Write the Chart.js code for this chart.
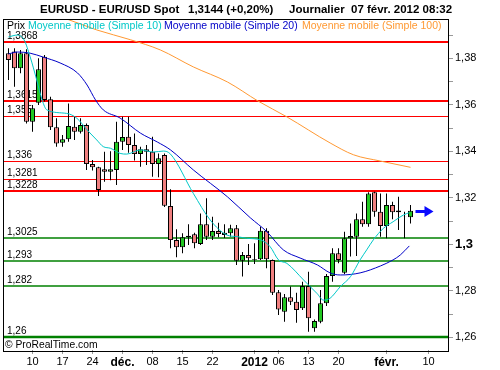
<!DOCTYPE html>
<html><head><meta charset="utf-8">
<script src="https://cdn.jsdelivr.net/npm/chart.js@4.4.1/dist/chart.umd.min.js"></script>
<style>html,body{margin:0;padding:0;background:#fff;}#wrap{width:500px;height:370px;}</style>
</head><body><div id="wrap"><canvas id="c" width="500" height="370"></canvas></div>
<script>
// ---- data ----
const opens = [1.3822,1.3829,1.3757,1.3822,1.3527,1.3609,1.3807,1.3624,1.3503,1.3437,1.3452,1.3506,1.3484,1.3513,1.3345,1.3331,1.3323,1.3312,1.3320,1.3441,1.3463,1.3427,1.3388,1.3409,1.3398,1.3345,1.3384,1.3165,1.3018,1.2987,1.3030,1.3043,1.3001,1.3086,1.3033,1.3057,1.3040,1.3047,1.3069,1.2929,1.2954,1.2932,1.2936,1.3058,1.2932,1.2794,1.2710,1.2772,1.2753,1.2725,1.2821,1.2639,1.2667,1.2746,1.2864,1.2961,1.2878,1.3026,1.3033,1.3108,1.3086,1.3224,1.3140,1.3079,1.3169,1.3145,1.3119,1.3116];
const highs = [1.3843,1.3843,1.3836,1.3839,1.3599,1.3800,1.3814,1.3635,1.3542,1.3470,1.3606,1.3549,1.3542,1.3520,1.3363,1.3334,1.3398,1.3400,1.3527,1.3549,1.3549,1.3477,1.3420,1.3427,1.3463,1.3391,1.3391,1.3237,1.3065,1.3047,1.3086,1.3050,1.3133,1.3198,1.3119,1.3093,1.3086,1.3084,1.3083,1.2967,1.3001,1.3004,1.3076,1.3069,1.2935,1.2803,1.2786,1.2818,1.2792,1.2839,1.2882,1.2677,1.2803,1.2872,1.2983,1.2983,1.3054,1.3090,1.3133,1.3183,1.3224,1.3226,1.3219,1.3219,1.3183,1.3205,1.3140,1.3169];
const lows = [1.3707,1.3678,1.3736,1.3520,1.3484,1.3599,1.3614,1.3492,1.3420,1.3420,1.3441,1.3449,1.3477,1.3320,1.3317,1.3208,1.3269,1.3275,1.3255,1.3406,1.3394,1.3360,1.3334,1.3341,1.3291,1.3288,1.3160,1.2983,1.2944,1.2961,1.2997,1.2983,1.2997,1.3018,1.3018,1.3030,1.3027,1.3033,1.2911,1.2861,1.2911,1.2915,1.2932,1.2897,1.2782,1.2696,1.2667,1.2739,1.2663,1.2717,1.2624,1.2624,1.2660,1.2735,1.2839,1.2918,1.2872,1.2947,1.2950,1.3076,1.3076,1.3119,1.3033,1.3026,1.3108,1.3061,1.3026,1.3090];
const closes = [1.3793,1.3757,1.3822,1.3527,1.3585,1.3753,1.3621,1.3503,1.3434,1.3452,1.3509,1.3484,1.3513,1.3345,1.3331,1.3234,1.3312,1.3323,1.3441,1.3462,1.3427,1.3388,1.3409,1.3398,1.3345,1.3370,1.3166,1.3018,1.2987,1.3030,1.3037,1.3004,1.3086,1.3033,1.3057,1.3044,1.3050,1.3069,1.2929,1.2954,1.2940,1.2936,1.3058,1.2936,1.2792,1.2720,1.2772,1.2753,1.2717,1.2821,1.2682,1.2670,1.2746,1.2864,1.2961,1.2932,1.3026,1.3036,1.3108,1.3086,1.3219,1.3140,1.3079,1.3169,1.3138,1.3138,1.3117,1.3144];

// moving averages, read at candle positions along the line
const ma10At = [0,1.5,2.6,3.6,4.7,5.6,6.4,9.7,11.4,13.1,14.7,15.8,17,18.6,19.7,22,24.2,25.8,27,30.8,33.6,36.4,38.1,39.7,42,43.6,45,46.4,49.2,51.4,52.5,53.6,55.3,57,58.6,59.7,60.8,62.5,64.1,65.8,66.8];
const ma10Values = [1.3892,1.3900,1.3879,1.3807,1.3707,1.3621,1.3578,1.3563,1.3542,1.3492,1.3449,1.3420,1.3413,1.3391,1.3388,1.3406,1.3397,1.3401,1.3388,1.3219,1.3105,1.3040,1.3033,1.3026,1.3019,1.2990,1.2933,1.2918,1.2846,1.2789,1.2760,1.2768,1.2818,1.2861,1.2933,1.2976,1.3019,1.3069,1.3097,1.3126,1.3136];
const ma20At = [0,1.5,3.6,5.8,8.6,11.5,13.1,14.5,15.8,18.6,22,24.8,27,30.8,36.5,40.3,43.1,45.8,48.6,51.5,53.6,55.3,58.6,62,64.1,65.3,66.8];
const ma20Values = [1.3819,1.3827,1.3822,1.3805,1.3780,1.3737,1.3685,1.3621,1.3578,1.3543,1.3478,1.3440,1.3406,1.3320,1.3204,1.3114,1.3053,1.2976,1.2941,1.2911,1.2877,1.2868,1.2877,1.2907,1.2933,1.2954,1.2993];
const ma100At = [7.9,9.8,14.7,20.3,25.3,30.8,36.5,41.6,46.4,53.6,57.5,62,67];
const ma100Values = [1.3982,1.3968,1.3922,1.3880,1.3836,1.3763,1.3698,1.3616,1.3548,1.3436,1.3385,1.3358,1.3331];

// horizontal levels
const levelValues = [1.3868,1.3615,1.355,1.336,1.3281,1.3228,1.3025,1.293,1.282,1.26];
const levelLabels = ['1,3868','1,3615','1,355','1,336','1,3281','1,3228','1,3025','1,293','1,282','1,26'];

// axes
const xTickPos = [4,9,14,19,24,29,34,41,45,50,55,63,70];
const xTickLabels = ['10','17','24','déc.','08','15','22','2012','06','13','20','févr.','10'];
const xBoldLabels = ['déc.','2012','févr.'];
const yTickValues = [1.26,1.27,1.28,1.29,1.30,1.31,1.32,1.33,1.34,1.35,1.36,1.37,1.38,1.39];
const yTickLabels = ['1,26','','1,28','','1,3','','1,32','','1,34','','1,36','','1,38',''];

const titleParts = ['EURUSD - EUR/USD Spot','1,3144 (+0,20%)','Journalier  07 févr. 2012 08:32'];
const legendParts = ['Prix','Moyenne mobile (Simple 10)','Moyenne mobile (Simple 20)','Moyenne mobile (Simple 100)'];
const copyright = '© ProRealTime.com';

// ---- styles ----
const FONT = '"Liberation Sans", Arial, sans-serif';
const UP = '#22c822', DOWN = '#f08080';
const C10 = '#00c8c8', C20 = '#0000c8', C100 = '#ff9933';
const levelStyle = [
  ['#ff0000',2],['#ff0000',2],['#ff0000',1],['#ff0000',1],['#ff0000',1],['#ff0000',2],
  ['#008000',1.4],['#008000',1.4],['#008000',1.4],['#008000',2.4]
];

Chart.defaults.font.family = FONT;

const bodies = opens.map((o,i)=>({x:i, y:[o, closes[i]]}));
const wicks = lows.map((l,i)=>({x:i, y:[l, highs[i]]}));
const bodyColors = opens.map((o,i)=> closes[i] >= o ? UP : DOWN);
const toPts = (xs, vs) => xs.map((x,i)=>({x:x, y:vs[i]}));

const overlay = {
  id:'overlay',
  beforeDraw(chart){
    const c = chart.ctx; c.save(); c.fillStyle='#fff'; c.fillRect(0,0,chart.width,chart.height); c.restore();
  },
  beforeDatasetsDraw(chart){
    const c = chart.ctx, a = chart.chartArea, y = chart.scales.y;
    c.save();
    levelValues.forEach((v,i)=>{
      const py = y.getPixelForValue(v);
      const [col,w] = levelStyle[i];
      c.strokeStyle = col; c.lineWidth = w;
      const off = (w % 2 === 1) ? 0.5 : 0;
      const yy = Math.round(py) + off;
      c.beginPath(); c.moveTo(a.left, yy); c.lineTo(a.right, yy); c.stroke();
      c.fillStyle = '#000'; c.font = '10px ' + FONT; c.textBaseline='alphabetic'; c.textAlign='left';
      c.fillText(levelLabels[i], a.left + 4, Math.round(py) - 3);
    });
    c.restore();
  },
  afterDatasetsDraw(chart){
    const c = chart.ctx, a = chart.chartArea, x = chart.scales.x, y = chart.scales.y;
    c.save();
    // arrow at last close
    const last = closes.length - 1;
    const ax = x.getPixelForValue(last), ay = Math.round(y.getPixelForValue(closes[last]));
    c.fillStyle = '#0a0aff';
    c.fillRect(ax + 5, ay - 1, 11, 3);
    c.beginPath(); c.moveTo(ax + 14, ay - 5); c.lineTo(ax + 23, ay + 0.5); c.lineTo(ax + 14, ay + 6); c.closePath(); c.fill();
    // frame
    c.strokeStyle = '#000'; c.lineWidth = 1;
    c.strokeRect(a.left + 0.5, a.top + 0.5, a.right - a.left - 1, a.bottom - a.top + 1);
    // title
    c.fillStyle = '#000'; c.font = 'bold 11.5px ' + FONT; c.textAlign='left'; c.textBaseline='alphabetic';
    c.fillText(titleParts[0], 40, 13);
    c.fillText(titleParts[1], 188, 13);
    c.fillText(titleParts[2], 289, 13);
    // legend
    c.font = '10.5px ' + FONT;
    const lx = [a.left + 4, 28, 164, 302];
    const lc = ['#000', C10, C20, C100];
    legendParts.forEach((t,i)=>{ c.fillStyle = lc[i]; c.fillText(t, lx[i], 29); });
    // copyright
    c.fillStyle = '#000'; c.font = '10.3px ' + FONT;
    c.fillText(copyright, a.left + 2, a.bottom - 2);
    c.restore();
  }
};

new Chart(document.getElementById('c'), {
  type: 'bar',
  data: {
    datasets: [
      {type:'line', data: toPts(ma10At, ma10Values), borderColor: C10, borderWidth: 1, pointRadius: 0, cubicInterpolationMode:'monotone', order: 0},
      {type:'line', data: toPts(ma20At, ma20Values), borderColor: C20, borderWidth: 1, pointRadius: 0, cubicInterpolationMode:'monotone', order: 0},
      {type:'line', data: toPts(ma100At, ma100Values), borderColor: C100, borderWidth: 1, pointRadius: 0, cubicInterpolationMode:'monotone', order: 0},
      {type:'bar', data: bodies, backgroundColor: bodyColors, borderColor:'#000', borderWidth: 1, borderSkipped: false, barThickness: 5, grouped: false, inflateAmount: 0, order: 1},
      {type:'bar', data: wicks, backgroundColor:'#000', borderWidth: 0, barThickness: 1, grouped: false, inflateAmount: 0, order: 2}
    ]
  },
  options: {
    responsive: false, animation: false, devicePixelRatio: 1,
    layout: { padding: { left: 3, top: 19, right: 0, bottom: 0 } },
    plugins: { legend: {display:false}, title:{display:false}, tooltip:{enabled:false} },
    scales: {
      x: {
        type: 'linear', position: 'bottom', offset: false,
        min: -11/12, max: 73 + 5/12,
        afterBuildTicks(s){ s.ticks = xTickPos.map(v=>({value:v})); },
        afterFit(s){ s.height = 20; },
        ticks: {
          autoSkip: false, maxRotation: 0, padding: 1, color: '#000',
          callback: (v) => xTickLabels[xTickPos.indexOf(v)],
          font: (ctx) => {
            const lab = ctx.tick ? xTickLabels[xTickPos.indexOf(ctx.tick.value)] : '';
            return xBoldLabels.includes(lab) ? {size: 12, weight: 'bold', family: FONT} : {size: 11, family: FONT};
          }
        },
        grid: { drawOnChartArea: false, drawTicks: true, tickLength: 4, color: '#999', offset: false },
        border: { display: false }
      },
      y: {
        type: 'linear', position: 'right',
        min: 1.254538, max: 1.396903,
        afterBuildTicks(s){ s.ticks = yTickValues.map(v=>({value:v})); },
        afterFit(s){ s.width = 51; },
        ticks: {
          padding: 2, color: '#000',
          callback: (v) => yTickLabels[yTickValues.findIndex(t=>Math.abs(t-v)<1e-6)],
          font: (ctx) => (ctx.tick && Math.abs(ctx.tick.value - 1.30) < 1e-6) ? {size: 13, weight:'bold', family: FONT} : {size: 11, family: FONT}
        },
        grid: { drawOnChartArea: false, drawTicks: true, tickLength: 4, color: '#999' },
        border: { display: false }
      }
    }
  },
  plugins: [overlay]
});
</script></body></html>
